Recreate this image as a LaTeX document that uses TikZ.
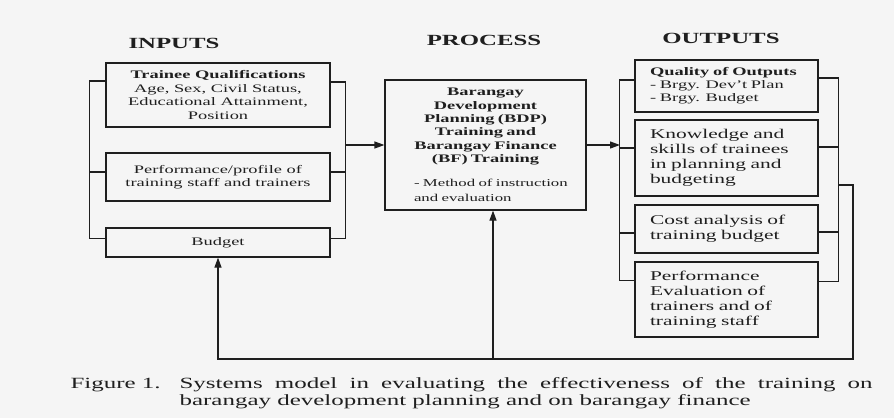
\documentclass[tikz,border=0pt]{standalone}
\usepackage{fontspec}
\setmainfont[FakeStretch=1.6]{Liberation Serif}
\usepackage{tikz}
\usetikzlibrary{arrows.meta,calc,positioning}

\begin{document}
\begin{tikzpicture}[x=1pt,y=-1pt,line width=1.2pt,color=black!88,
	myarrow/.style={-{Triangle[length=10pt,width=7pt]}},
	inbox/.style={draw,inner sep=0pt,minimum width=224pt,align=center,font=\fontsize{11.5}{13.4}\selectfont},
	outbox/.style={draw,inner sep=0pt,minimum width=183pt,text width=153pt,align=left,font=\fontsize{13.4}{15}\selectfont},
	heading/.style={font=\fontsize{15.5}{18}\selectfont\bfseries}]
	\fill[black!4] (0,0) rectangle (894,418);
	\useasboundingbox (0,0) rectangle (894,418);
	\draw
		(174,43) node[heading](inhead){INPUTS}
		(484,40) node[heading](prochead){PROCESS}
		(721,38) node[heading](outhead){OUTPUTS}
		(218,95) node[inbox,minimum height=64pt](qual){\textbf{Trainee Qualifications}\\Age, Sex, Civil Status,\\Educational Attainment,\\Position}
		(218,177) node[inbox,minimum height=48pt](perf){Performance/profile of\\training staff and trainers}
		(218,242.5) node[inbox,minimum height=29pt](budget){Budget}
		(485.5,145) node[draw,inner sep=0pt,minimum width=201pt,minimum height=130pt,text width=185pt](proc){%
			{\fontsize{11.5}{13.4}\selectfont\centering\bfseries Barangay\\Development\\Planning (BDP)\\Training and\\Barangay Finance\\(BF) Training\par}
			\vspace{9pt}
			{\fontsize{10.5}{15}\selectfont\raggedright\leftskip=21pt - Method of instruction\\and evaluation\par}}
		(726.5,86) node[outbox,minimum height=52pt,font=\fontsize{11.5}{13}\selectfont](qout){\textbf{Quality of Outputs}\\- Brgy. Dev't Plan\\- Brgy. Budget}
		(726.5,158) node[outbox,minimum height=76pt](know){Knowledge and\\skills of trainees\\in planning and\\budgeting}
		(726.5,229) node[outbox,minimum height=48pt](cost){Cost analysis of\\training budget}
		(726.5,299.5) node[outbox,minimum height=75pt](peval){Performance\\Evaluation of\\trainers and of\\training staff}
		(70,388) node[anchor=base west,inner sep=0pt](fignum){\fontsize{15.6}{17.5}\selectfont Figure 1.}
		(179,388) node[anchor=base west,inner sep=0pt,text width=693pt,align=justify](caption){\fontsize{15.6}{17.5}\selectfont Systems model in evaluating the effectiveness of the training on\linebreak barangay development planning and on barangay finance\par};
	\coordinate (injoin) at (345,145);
	\coordinate (outjoin) at (620,145);
	\coordinate (fbstart) at (838,185);
	\coordinate (fbR) at (853,359);
	\coordinate (fbM) at (493,359);
	% inputs bracket
	\draw
		([yshift=14pt]qual.west) -- ++(-16,0) |- ([yshift=4pt]budget.west)
		([yshift=5pt]perf.west) -- ++(-16,0)
		([yshift=13pt]qual.east) -- ++(15,0) |- ([yshift=4pt]budget.east)
		([yshift=5pt]perf.east) -- ++(15,0);
	\draw[myarrow](injoin) -- (proc.west);
	\draw[myarrow](proc.east) -- (outjoin);
	% outputs bracket
	\draw
		([yshift=6pt]qout.west) -- ++(-15,0) |- ([yshift=19pt]peval.west)
		([yshift=10pt]know.west) -- ++(-15,0)
		([yshift=-4pt]cost.west) -- ++(-15,0)
		([yshift=8pt]qout.east) -- ++(20,0) |- ([yshift=18pt]peval.east)
		([yshift=11pt]know.east) -- ++(20,0)
		([yshift=-3pt]cost.east) -- ++(20,0);
	% feedback
	\draw[myarrow](fbstart) -| (fbR) -- (budget.south |- fbR) -- (budget.south);
	\draw[myarrow](fbM) -- (fbM |- proc.south);
\end{tikzpicture}
\end{document}
